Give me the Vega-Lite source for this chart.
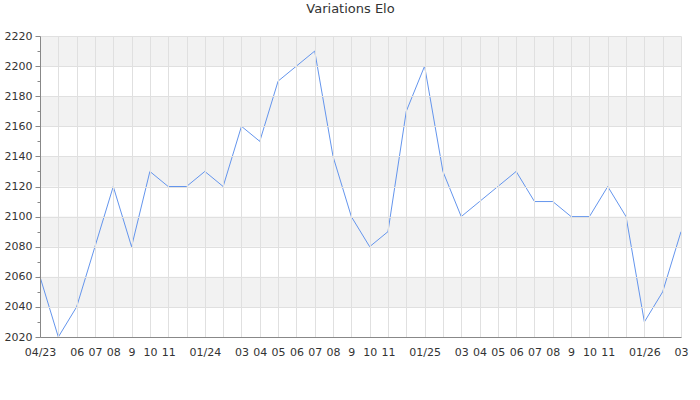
{
  "$schema": "https://vega.github.io/schema/vega-lite/v6.json",
  "width": 641,
  "height": 301,
  "autosize": {"type": "none"},
  "padding": {"left": 40, "top": 36, "right": 19, "bottom": 63},
  "background": "white",
  "title": {"text": "Variations Elo", "fontSize": 13, "fontWeight": "normal", "font": "DejaVu Sans", "color": "#333333", "offset": 14, "dx": -10},
  "config": {
    "view": {"stroke": null},
    "axis": {"labelFont": "DejaVu Sans", "labelFontSize": 11, "labelColor": "#333333", "domainColor": "#888888", "tickColor": "#888888", "gridColor": "#e0e0e0", "gridWidth": 1},
    "axisY": {"labelOverlap": false, "labelFlush": false}
  },
  "datasets": {
    "bands": [
      {"lo": 2040, "hi": 2060},
      {"lo": 2080, "hi": 2100},
      {"lo": 2120, "hi": 2140},
      {"lo": 2160, "hi": 2180},
      {"lo": 2200, "hi": 2220}
    ],
    "elo": [
      {"date": "2023-04", "elo": 2060},
      {"date": "2023-05", "elo": 2020},
      {"date": "2023-06", "elo": 2040},
      {"date": "2023-07", "elo": 2080},
      {"date": "2023-08", "elo": 2120},
      {"date": "2023-09", "elo": 2080},
      {"date": "2023-10", "elo": 2130},
      {"date": "2023-11", "elo": 2120},
      {"date": "2023-12", "elo": 2120},
      {"date": "2024-01", "elo": 2130},
      {"date": "2024-02", "elo": 2120},
      {"date": "2024-03", "elo": 2160},
      {"date": "2024-04", "elo": 2150},
      {"date": "2024-05", "elo": 2190},
      {"date": "2024-06", "elo": 2200},
      {"date": "2024-07", "elo": 2210},
      {"date": "2024-08", "elo": 2140},
      {"date": "2024-09", "elo": 2100},
      {"date": "2024-10", "elo": 2080},
      {"date": "2024-11", "elo": 2090},
      {"date": "2024-12", "elo": 2170},
      {"date": "2025-01", "elo": 2200},
      {"date": "2025-02", "elo": 2130},
      {"date": "2025-03", "elo": 2100},
      {"date": "2025-04", "elo": 2110},
      {"date": "2025-05", "elo": 2120},
      {"date": "2025-06", "elo": 2130},
      {"date": "2025-07", "elo": 2110},
      {"date": "2025-08", "elo": 2110},
      {"date": "2025-09", "elo": 2100},
      {"date": "2025-10", "elo": 2100},
      {"date": "2025-11", "elo": 2120},
      {"date": "2025-12", "elo": 2100},
      {"date": "2026-01", "elo": 2030},
      {"date": "2026-02", "elo": 2050},
      {"date": "2026-03", "elo": 2090}
    ]
  },
  "layer": [
    {
      "data": {"name": "bands"},
      "mark": {"type": "rect", "color": "#f2f2f2"},
      "encoding": {
        "y": {
          "field": "lo", "type": "quantitative",
          "scale": {"domain": [2020, 2220], "nice": false, "zero": false},
          "axis": {
            "title": null, "grid": true, "zindex": 1,
            "values": [2020, 2030, 2040, 2050, 2060, 2070, 2080, 2090, 2100, 2110, 2120, 2130, 2140, 2150, 2160, 2170, 2180, 2190, 2200, 2210, 2220],
            "labelExpr": "datum.value % 20 == 0 ? datum.label : ''",
            "format": "d",
            "labelOverlap": false,
            "labelFlush": false,
            "gridColor": {"condition": {"test": "datum.value % 20 == 0", "value": "#e0e0e0"}, "value": "transparent"},
            "tickSize": {"condition": {"test": "datum.value % 20 == 0", "value": 5}, "value": 3},
            "labelPadding": 3
          }
        },
        "y2": {"field": "hi"}
      }
    },
    {
      "data": {"name": "elo"},
      "mark": {"type": "line", "color": "#6495ED", "strokeWidth": 1},
      "encoding": {
        "x": {
          "field": "date", "type": "ordinal", "sort": null,
          "scale": {"type": "point", "padding": 0},
          "axis": {
            "title": null, "labelAngle": 0, "grid": true, "ticks": false, "labelPadding": 9, "labelOverlap": false, "zindex": 1,
            "labelExpr": "datum.value == '2023-04' || substring(datum.value,5,7) == '01' ? substring(datum.value,5,7) + '/' + substring(datum.value,2,4) : (datum.value == '2023-05' || substring(datum.value,5,7) == '02' || substring(datum.value,5,7) == '12' ? '' : (substring(datum.value,5,7) == '09' ? '9' : substring(datum.value,5,7)))"
          }
        },
        "y": {
          "field": "elo", "type": "quantitative",
          "axis": {
            "title": null, "grid": true, "zindex": 1,
            "values": [2020, 2030, 2040, 2050, 2060, 2070, 2080, 2090, 2100, 2110, 2120, 2130, 2140, 2150, 2160, 2170, 2180, 2190, 2200, 2210, 2220],
            "labelExpr": "datum.value % 20 == 0 ? datum.label : ''",
            "format": "d",
            "labelOverlap": false,
            "labelFlush": false,
            "gridColor": {"condition": {"test": "datum.value % 20 == 0", "value": "#e0e0e0"}, "value": "transparent"},
            "tickSize": {"condition": {"test": "datum.value % 20 == 0", "value": 5}, "value": 3},
            "labelPadding": 3
          }
        }
      }
    }
  ]
}
